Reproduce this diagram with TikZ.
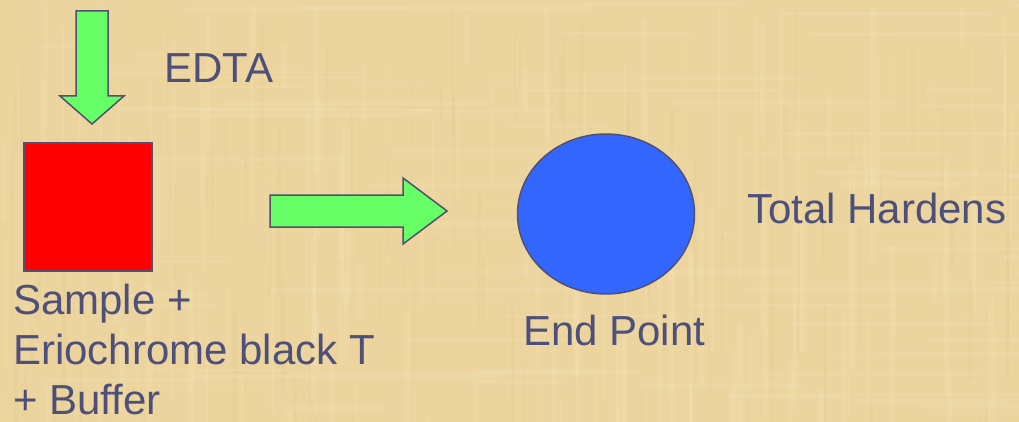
\documentclass[tikz,border=0pt]{standalone}
\usepackage{fontspec}
\setmainfont{Liberation Sans}
\usetikzlibrary{shapes.geometric}

\definecolor{paper}{RGB}{235,212,158}
\definecolor{paperlight}{RGB}{247,232,192}
\definecolor{paperdark}{RGB}{216,188,126}
\definecolor{inktext}{RGB}{78,80,122}
\definecolor{outline}{RGB}{82,80,112}
\definecolor{arrowgreen}{RGB}{102,255,102}
\definecolor{samplered}{RGB}{255,0,0}
\definecolor{endblue}{RGB}{51,102,255}

\tikzset{
  label text/.style={font=\fontsize{42}{50}\selectfont, text=inktext,
                     inner sep=0pt, anchor=base west},
  blockarrow/.style={fill=arrowgreen, draw=outline, line width=1.5pt,
                     line join=miter},
  shapebox/.style={draw=outline, line width=1.5pt}
}

\begin{document}
\begin{tikzpicture}[x=1pt, y=-1pt]
  % parchment background
  \useasboundingbox (0,0) rectangle (1019,422);
  \fill[paper] (0,0) rectangle (1019,422);
  \begin{scope}
    \clip (0,0) rectangle (1019,422);
    \pgfmathsetseed{11}
    \foreach \i in {1,...,160}{
      \pgfmathsetmacro{\xa}{rnd*1019}
      \pgfmathsetmacro{\wa}{1+rnd*5}
      \pgfmathsetmacro{\ya}{rnd*422}
      \pgfmathsetmacro{\ha}{40+rnd*200}
      \fill[paperlight, opacity=0.2] (\xa,\ya) rectangle ++(\wa,\ha);
    }
    \foreach \i in {1,...,90}{
      \pgfmathsetmacro{\xa}{rnd*1019}
      \pgfmathsetmacro{\wa}{1+rnd*4}
      \pgfmathsetmacro{\ya}{rnd*422}
      \pgfmathsetmacro{\ha}{30+rnd*160}
      \fill[paperdark, opacity=0.1] (\xa,\ya) rectangle ++(\wa,\ha);
    }
    \foreach \i in {1,...,80}{
      \pgfmathsetmacro{\xa}{rnd*1019}
      \pgfmathsetmacro{\wa}{60+rnd*260}
      \pgfmathsetmacro{\ya}{rnd*422}
      \pgfmathsetmacro{\ha}{1+rnd*4}
      \fill[paperlight, opacity=0.18] (\xa,\ya) rectangle ++(\wa,\ha);
    }
  \end{scope}

  % EDTA being added from above
  \draw[blockarrow] (76,11) -- (108,11) -- (108,96) -- (124,96) -- (92,124)
    -- (60,96) -- (76,96) -- cycle;
  \node[label text] (edta) at (164,83) {EDTA};

  % sample with indicator and buffer
  \node[shapebox, fill=samplered, rectangle, minimum width=128pt,
        minimum height=128pt, inner sep=0pt] (sample) at (88,207) {};
  \node[label text] (sampleA) at (13,314) {Sample +};
  \node[label text] (sampleB) at (13,364) {Eriochrome black T};
  \node[label text, text depth=0pt] (sampleC) at (13,414) {+ Buffer};

  % titration proceeds
  \draw[blockarrow] (270,195) -- (403,195) -- (403,178) -- (447,211)
    -- (403,244) -- (403,227) -- (270,227) -- cycle;

  % end point reached
  \node[shapebox, fill=endblue, ellipse, minimum width=177pt,
        minimum height=160pt, inner sep=0pt] (endpoint) at (606,214) {};
  \node[label text] (endlabel) at (523,345) {End Point};
  \node[label text] (hardness) at (747,223) {Total Hardens};
\end{tikzpicture}
\end{document}
